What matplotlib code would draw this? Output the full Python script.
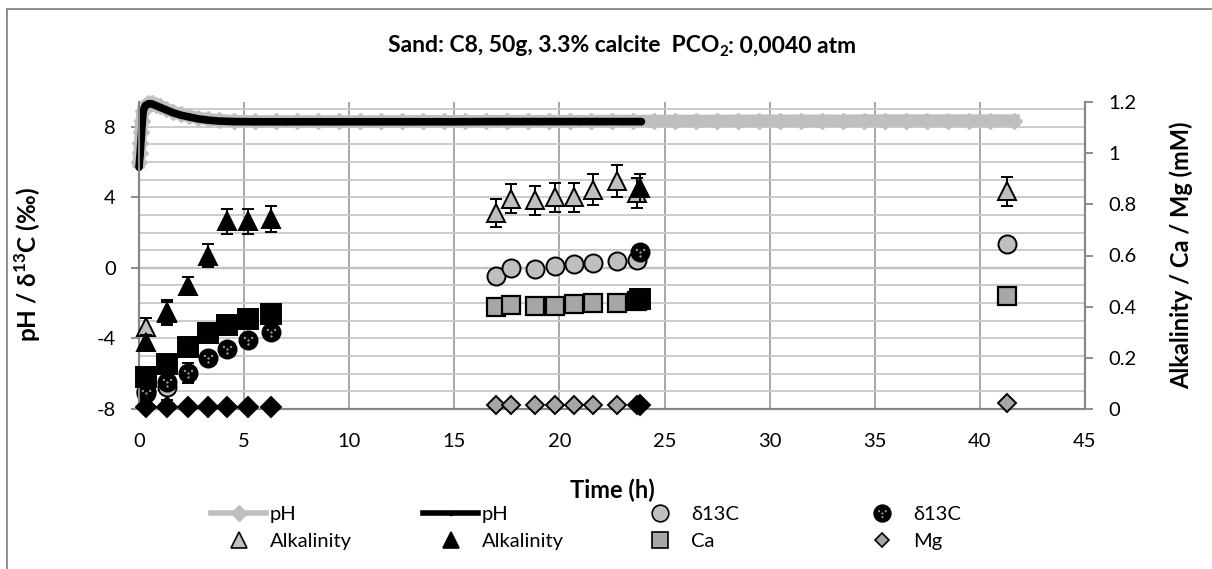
import matplotlib
matplotlib.use('Agg')
import matplotlib.pyplot as plt
from matplotlib.lines import Line2D
from matplotlib.path import Path
from matplotlib.markers import MarkerStyle
import numpy as np

plt.rcParams['font.family'] = ['Lato', 'DejaVu Sans']
plt.rcParams['mathtext.fontset'] = 'custom'
plt.rcParams['mathtext.rm'] = 'Lato'
plt.rcParams['mathtext.bf'] = 'Lato:bold'
plt.rcParams['axes.unicode_minus'] = False

# ---------------- data ----------------
# pH series 1 (grey, long run)
ph1_t = [0.0, 0.03, 0.06, 0.09, 0.12, 0.2, 0.3, 0.45, 0.6, 0.8, 1.0, 1.3, 1.6, 2.0, 2.4,
         2.8, 3.3, 3.8, 4.5, 5.5, 6.5, 7.5, 8.5, 9.5, 10.5, 11.5, 12.5, 13.5, 14.5, 15.5,
         16.5, 17.5, 18.5, 19.5, 20.5, 21.5, 22.5, 23.5, 24.5, 25.5, 26.5, 27.5, 28.5,
         29.5, 30.5, 31.5, 32.5, 33.5, 34.5, 35.5, 36.5, 37.5, 38.5, 39.5, 40.5, 41.6]
ph1_v = [6.0, 6.5, 7.1, 7.7, 8.3, 8.9, 9.2, 9.35, 9.35, 9.25, 9.15, 9.0, 8.85, 8.7, 8.6,
         8.5, 8.42, 8.36, 8.32, 8.3, 8.3, 8.3, 8.3, 8.3, 8.3, 8.3, 8.3, 8.31, 8.31, 8.31,
         8.31, 8.32, 8.32, 8.32, 8.32, 8.32, 8.33, 8.33, 8.33, 8.33, 8.33, 8.33, 8.34,
         8.34, 8.34, 8.34, 8.34, 8.34, 8.35, 8.35, 8.35, 8.35, 8.35, 8.35, 8.35, 8.35]
# pH series 2 (black)
ph2_t = [0.0, 0.05, 0.1, 0.15, 0.2, 0.3, 0.45, 0.6, 0.8, 1.0, 1.3, 1.6, 2.0, 2.4, 2.8,
         3.3, 3.8, 4.5, 5.5, 7.0, 9.0, 11.0, 13.0, 15.0, 17.0, 19.0, 21.0, 23.0, 23.9]
ph2_v = [5.7, 6.4, 7.3, 8.2, 8.9, 9.2, 9.3, 9.3, 9.2, 9.1, 8.95, 8.8, 8.65, 8.55, 8.45,
         8.37, 8.32, 8.29, 8.28, 8.28, 8.28, 8.28, 8.28, 8.28, 8.29, 8.29, 8.29, 8.29, 8.29]

# delta13C (left axis, permil)
d13_grey_t = [0.33, 1.33, 17.0, 17.7, 18.85, 19.8, 20.7, 21.6, 22.75, 23.7, 41.3]
d13_grey_v = [-7.0, -6.75, -0.46, -0.03, -0.09, 0.08, 0.19, 0.3, 0.36, 0.42, 1.38]
d13_grey_e = [0.3, 0.75, 0.3, 0.3, 0.3, 0.3, 0.3, 0.3, 0.3, 0.3, 0.3]
d13_black_t = [0.33, 1.33, 2.33, 3.3, 4.2, 5.2, 6.3, 23.85]
d13_black_v = [-7.1, -6.49, -5.98, -5.13, -4.62, -4.1, -3.65, 0.9]
d13_black_e = [0.3, 0.4, 0.57, 0.3, 0.3, 0.3, 0.3, 0.3]

# Alkalinity (right axis, mM)
alk_grey_t = [0.33, 1.33, 17.0, 17.7, 18.85, 19.8, 20.7, 21.6, 22.75, 23.7, 41.3]
alk_grey_v = [0.32, 0.38, 0.766, 0.822, 0.815, 0.827, 0.827, 0.857, 0.892, 0.843, 0.851]
alk_grey_e = [0.035, 0.045, 0.054, 0.057, 0.057, 0.058, 0.058, 0.06, 0.062, 0.058, 0.057]
alk_black_t = [0.33, 1.33, 2.33, 3.3, 4.2, 5.2, 6.3, 23.85]
alk_black_v = [0.26, 0.375, 0.48, 0.60, 0.733, 0.733, 0.743, 0.863]
alk_black_e = [0.03, 0.045, 0.035, 0.045, 0.049, 0.049, 0.05, 0.055]

# Ca (right axis, mM)
ca_grey_t = [17.0, 17.7, 18.85, 19.8, 20.7, 21.6, 22.75, 23.7, 41.3]
ca_grey_v = [0.40, 0.405, 0.403, 0.403, 0.41, 0.416, 0.413, 0.423, 0.442]
ca_black_t = [0.33, 1.33, 2.33, 3.3, 4.2, 5.2, 6.3, 23.85]
ca_black_v = [0.124, 0.177, 0.242, 0.297, 0.328, 0.353, 0.371, 0.431]

# Mg (right axis, mM)
mg_grey_t = [17.0, 17.7, 18.85, 19.8, 20.7, 21.6, 22.75, 23.7, 41.3]
mg_grey_v = [0.016, 0.016, 0.016, 0.016, 0.016, 0.016, 0.016, 0.016, 0.022]
mg_black_t = [0.33, 1.33, 2.33, 3.3, 4.2, 5.2, 6.3, 23.85]
mg_black_v = [0.009, 0.009, 0.009, 0.009, 0.009, 0.009, 0.009, 0.016]

x_ticks = [0, 5, 10, 15, 20, 25, 30, 35, 40, 45]
left_ticks = [-8, -4, 0, 4, 8]
right_ticks = [0, 0.2, 0.4, 0.6, 0.8, 1.0, 1.2]
right_ticklabels = ['0', '0.2', '0.4', '0.6', '0.8', '1', '1.2']

# ---------------- styles ----------------
LG = '#BFBFBF'   # light grey
MG = '#A6A6A6'   # medium grey
AX = '#868686'   # axis grey
W, H = 1212, 569
TICK_FS = 14.5
LABEL_FS = 17
TITLE_FS = 16.5
LEG_FS = 14.5

# dotted marker for black delta13C
dot_centers = [(-0.2, 0.14), (0.2, 0.14), (0.0, -0.22), (0.0, 0.0)]
dot_r = 0.065
dots_path = Path.make_compound_path(*[Path.circle(c, dot_r) for c in dot_centers])
dots_extent = np.max(np.abs(dots_path.vertices))
dots_marker = MarkerStyle(dots_path)

fig = plt.figure(figsize=(W / 100, H / 100), dpi=100)
ax = fig.add_axes([139 / W, 1 - 409 / H, (1085 - 139) / W, (409 - 102) / H])
ax2 = ax.twinx()

ax.set_xlim(0, 45)
ax.set_ylim(-8, 9.4)
ax2.set_ylim(0, 1.2)

# grid
ax.set_axisbelow(True)
ax.set_yticks(left_ticks)
ax.set_yticks(np.arange(-8, 10, 1), minor=True)
ax.set_xticks(x_ticks)
ax.grid(True, which='minor', axis='y', color='#C8C8C8', lw=1.3)
ax.grid(True, which='major', axis='y', color='#C8C8C8', lw=1.3)
ax.grid(True, which='major', axis='x', color='#A0A0A0', lw=1.3)
ax.axhline(0, color=AX, lw=1.6, zorder=0.5)

# pH lines
ax.plot(ph1_t, ph1_v, color=LG, lw=9, marker='D', ms=8.5, mfc=LG, mec=LG,
        solid_joinstyle='round', zorder=2, clip_on=False)
ax.plot(ph2_t, ph2_v, color='black', lw=5.5, marker='o', ms=3, mfc='black', mec='black',
        solid_joinstyle='round', solid_capstyle='round', zorder=3, clip_on=False)

MS = 13
ebkw = dict(ecolor='black', elinewidth=1.4, capsize=4, capthick=1.4, ls='none')

# delta13C
ax.errorbar(d13_grey_t, d13_grey_v, yerr=d13_grey_e, marker='o', ms=MS, mfc=LG, mec='black',
            mew=1.4, zorder=4, clip_on=False, **ebkw)
ax.errorbar(d13_black_t, d13_black_v, yerr=d13_black_e, marker='o', ms=MS, mfc='black',
            mec='black', mew=1.4, zorder=5, clip_on=False, **ebkw)
ax.plot(d13_black_t, d13_black_v, ls='none', marker=dots_marker,
        ms=2 * dots_extent * MS, mfc='#9A9A9A', mec='none', zorder=6, clip_on=False)

# right axis series
ax2.errorbar(alk_grey_t, alk_grey_v, yerr=alk_grey_e, marker='^', ms=MS, mfc=LG, mec='black',
             mew=1.4, zorder=4, clip_on=False, **ebkw)
ax2.errorbar(alk_black_t, alk_black_v, yerr=alk_black_e, marker='^', ms=MS, mfc='black',
             mec='black', mew=1.4, zorder=5, clip_on=False, **ebkw)
ax2.plot(ca_grey_t, ca_grey_v, ls='none', marker='s', ms=MS, mfc=MG, mec='black', mew=1.6,
         zorder=4, clip_on=False)
ax2.plot(ca_black_t, ca_black_v, ls='none', marker='s', ms=MS + 1, mfc='black', mec='black',
         mew=1.4, zorder=5, clip_on=False)
ax2.plot(mg_grey_t, mg_grey_v, ls='none', marker='D', ms=9.3, mfc=MG, mec='black', mew=1.4,
         zorder=4, clip_on=False)
ax2.plot(mg_black_t, mg_black_v, ls='none', marker='D', ms=10, mfc='black', mec='black',
         mew=1.4, zorder=5, clip_on=False)

# spines / ticks
for a in (ax, ax2):
    a.spines['top'].set_visible(False)
    for s in ('left', 'right', 'bottom'):
        a.spines[s].set_color(AX)
        a.spines[s].set_linewidth(1.5)
ax.tick_params(axis='y', which='major', direction='out', length=5.8, width=1.3, color=AX,
               pad=11, labelsize=TICK_FS)
ax.tick_params(axis='y', which='minor', length=0)
ax.tick_params(axis='x', length=0, pad=17, labelsize=TICK_FS)
ax2.set_yticks(right_ticks)
ax2.set_yticklabels(right_ticklabels)
ax2.tick_params(axis='y', direction='out', length=5.8, width=1.3, color=AX, pad=11,
                labelsize=TICK_FS)

ax.set_xlabel('Time (h)', fontsize=LABEL_FS, fontweight='bold', labelpad=21)
ax.set_ylabel(r'pH / δ$^{\mathbf{13}}$C (‰)', fontsize=17.5, fontweight='bold')
ax.yaxis.set_label_coords((43 - 139) / (1085 - 139), 0.47)
ax2.set_ylabel('Alkalinity / Ca / Mg (mM)', fontsize=LABEL_FS, fontweight='bold')
ax2.yaxis.set_label_coords((1170 - 139) / (1085 - 139), 0.5)

# title: bold text with subscript 2 drawn as a separate smaller text piece
title_a = 'Sand: C8, 50g, 3.3% calcite  PCO'
title_sub = '2'
title_b = ': 0,0040 atm'
ta = fig.text(0.5, 1 - 46 / H, title_a, ha='left', va='center', fontsize=TITLE_FS,
              fontweight='bold')
tsub = fig.text(0.5, 1 - 46 / H, title_sub, ha='left', va='center', fontsize=TITLE_FS * 0.65,
                fontweight='bold')
tb = fig.text(0.5, 1 - 46 / H, title_b, ha='left', va='center', fontsize=TITLE_FS,
              fontweight='bold')
renderer = fig.canvas.get_renderer()
wa = ta.get_window_extent(renderer).width
ws = tsub.get_window_extent(renderer).width
wb = tb.get_window_extent(renderer).width
total = wa + ws + wb
x0 = 622 - total / 2
ta.set_x(x0 / W)
tsub.set_x((x0 + wa) / W)
tsub.set_y(1 - 52 / H)
tb.set_x((x0 + wa + ws) / W)

# outer border
fig.add_artist(Line2D([7 / W, 7 / W], [0, 1 - 9 / H], color=AX, lw=1.3, transform=fig.transFigure))
fig.add_artist(Line2D([7 / W, 1], [1 - 9 / H, 1 - 9 / H], color=AX, lw=1.3, transform=fig.transFigure))

# legend (manual columns)
h_ph1 = Line2D([], [], color=LG, lw=4, marker='D', ms=8, mfc=LG, mec=LG)
h_ph2 = Line2D([], [], color='black', lw=4, marker='o', ms=3, mfc='black', mec='black')
h_d13g = Line2D([], [], ls='none', marker='o', ms=12, mfc=LG, mec='black', mew=1.2)
h_d13b = (Line2D([], [], ls='none', marker='o', ms=12, mfc='black', mec='black', mew=1.2),
          Line2D([], [], ls='none', marker=dots_marker, ms=2 * dots_extent * 12, mfc='#9A9A9A', mec='none'))
h_alkg = Line2D([], [], ls='none', marker='^', ms=11, mfc=LG, mec='black', mew=1.2)
h_alkb = Line2D([], [], ls='none', marker='^', ms=11, mfc='black', mec='black', mew=1.2)
h_ca = Line2D([], [], ls='none', marker='s', ms=11, mfc=MG, mec='black', mew=1.2)
h_mg = Line2D([], [], ls='none', marker='D', ms=7.6, mfc=MG, mec='black', mew=1.2)

columns = [
    (211, [h_ph1, h_alkg], ['pH', 'Alkalinity']),
    (423, [h_ph2, h_alkb], ['pH', 'Alkalinity']),
    (632, [h_d13g, h_ca], ['δ13C', 'Ca']),
    (854, [h_d13b, h_mg], ['δ13C', 'Mg']),
]
for xpix, hs, ls in columns:
    fig.legend(hs, ls, loc='center left', bbox_to_anchor=(xpix / W, 1 - 528 / H),
               frameon=False, fontsize=LEG_FS, borderpad=0, borderaxespad=0,
               handlelength=55 / (LEG_FS * 100 / 72), handletextpad=0.2,
               labelspacing=0.45, numpoints=1)

fig.savefig('out.png', dpi=100)
